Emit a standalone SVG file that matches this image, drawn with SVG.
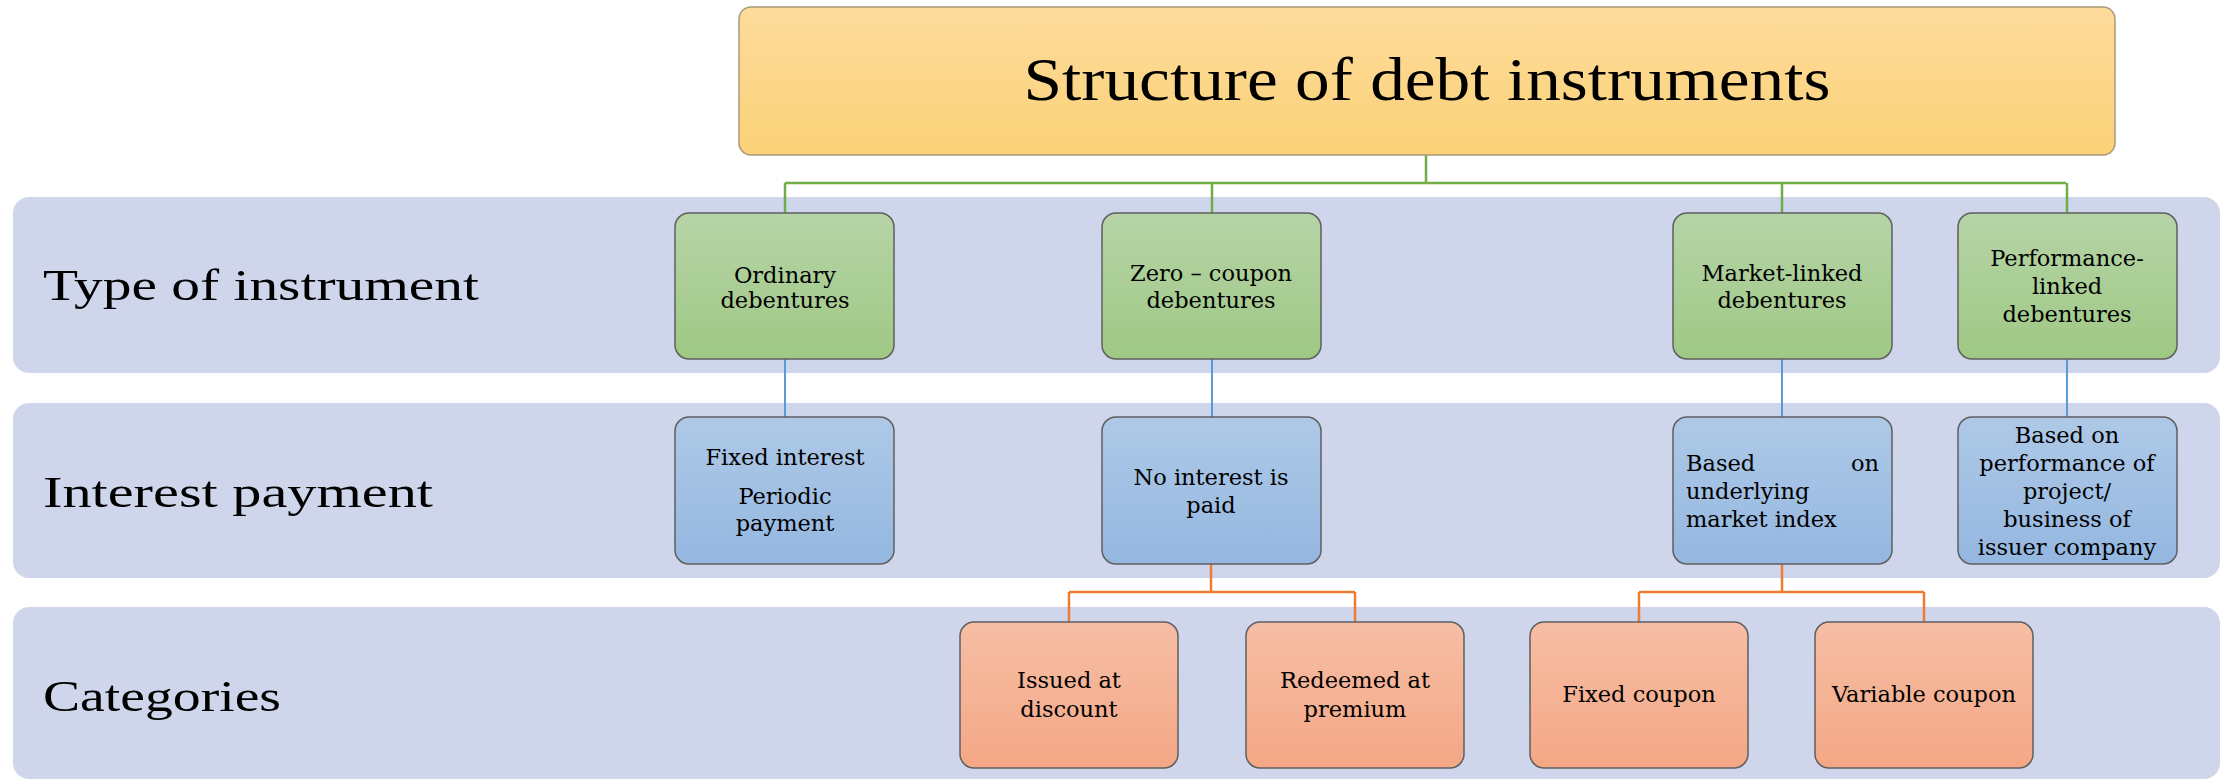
<svg xmlns="http://www.w3.org/2000/svg" width="2226" height="780" viewBox="0 0 2226 780">
<defs>
<linearGradient id="gTitle" x1="0" y1="0" x2="0" y2="1"><stop offset="0" stop-color="#fddb9c"/><stop offset="1" stop-color="#fbd277"/></linearGradient>
<linearGradient id="gGreen" x1="0" y1="0" x2="0" y2="1"><stop offset="0" stop-color="#b6d4a7"/><stop offset="1" stop-color="#9fc884"/></linearGradient>
<linearGradient id="gBlue" x1="0" y1="0" x2="0" y2="1"><stop offset="0" stop-color="#aec9e7"/><stop offset="1" stop-color="#94b7e0"/></linearGradient>
<linearGradient id="gOrange" x1="0" y1="0" x2="0" y2="1"><stop offset="0" stop-color="#f6bea5"/><stop offset="1" stop-color="#f4a785"/></linearGradient>
<style>
.band{fill:#cfd5ea}
.box{stroke:#5f5f5f;stroke-width:1.5}
.green{fill:url(#gGreen)}
.blue{fill:url(#gBlue)}
.orange{fill:url(#gOrange)}
.t{font-family:"DejaVu Serif","Liberation Serif",serif;font-size:22.5px;fill:#000;text-anchor:middle}
.lbl{font-family:"Liberation Serif","DejaVu Serif",serif;font-size:45px;fill:#000}
.cg{stroke:#70ad47;stroke-width:2.5;fill:none}
.cb{stroke:#5b9bd5;stroke-width:2;fill:none}
.co{stroke:#ed7d31;stroke-width:2.5;fill:none}
</style>
</defs>
<rect width="2226" height="780" fill="#ffffff"/>
<g id="bands">
<rect class="band" x="13" y="197" width="2207" height="176" rx="16"/>
<rect class="band" x="13" y="403" width="2207" height="175" rx="16"/>
<rect class="band" x="13" y="607" width="2207" height="172" rx="16"/>
</g>
<g id="row-labels">
<text class="lbl" x="43" y="300" textLength="436" lengthAdjust="spacingAndGlyphs">Type of instrument</text>
<text class="lbl" x="43" y="507" textLength="390" lengthAdjust="spacingAndGlyphs">Interest payment</text>
<text class="lbl" x="43" y="711" textLength="238" lengthAdjust="spacingAndGlyphs">Categories</text>
</g>
<g id="connectors">
<path class="cg" d="M1426 155V183M785 183H2066M785 183V213M1212 183V213M1782 183V213M2067 183V213"/>
<path class="cb" d="M785 359V417M1212 359V417M1782 359V417M2067 359V417"/>
<path class="co" d="M1211 564V592M1069 592H1355M1069 592V622M1355 592V622M1782 564V592M1639 592H1924M1639 592V622M1924 592V622"/>
</g>
<g id="title">
<rect x="739" y="7" width="1376" height="148" rx="12" fill="url(#gTitle)" stroke="#a89a7a" stroke-width="1.5"/>
<text x="1427" y="100" font-family="Liberation Serif, DejaVu Serif, serif" font-size="61" text-anchor="middle" textLength="807" lengthAdjust="spacingAndGlyphs">Structure of debt instruments</text>
</g>
<g id="ordinary">
<rect class="box green" x="675" y="213" width="219" height="146" rx="14"/>
<text class="t"><tspan x="785" y="283">Ordinary</tspan><tspan x="785" y="308">debentures</tspan></text>
</g>
<g id="zero-coupon">
<rect class="box green" x="1102" y="213" width="219" height="146" rx="14"/>
<text class="t"><tspan x="1211" y="281">Zero – coupon</tspan><tspan x="1211" y="308">debentures</tspan></text>
</g>
<g id="market-linked">
<rect class="box green" x="1673" y="213" width="219" height="146" rx="14"/>
<text class="t"><tspan x="1782" y="281">Market-linked</tspan><tspan x="1782" y="308">debentures</tspan></text>
</g>
<g id="performance-linked">
<rect class="box green" x="1958" y="213" width="219" height="146" rx="14"/>
<text class="t"><tspan x="2067" y="266">Performance-</tspan><tspan x="2067" y="294">linked</tspan><tspan x="2067" y="322">debentures</tspan></text>
</g>
<g id="fixed-interest">
<rect class="box blue" x="675" y="417" width="219" height="147" rx="14"/>
<text class="t"><tspan x="785" y="465">Fixed interest</tspan><tspan x="785" y="504">Periodic</tspan><tspan x="785" y="531">payment</tspan></text>
</g>
<g id="no-interest">
<rect class="box blue" x="1102" y="417" width="219" height="147" rx="14"/>
<text class="t"><tspan x="1211" y="485">No interest is</tspan><tspan x="1211" y="513">paid</tspan></text>
</g>
<g id="market-index">
<rect class="box blue" x="1673" y="417" width="219" height="147" rx="14"/>
<text class="t" text-anchor="start"><tspan x="1686" y="471" text-anchor="start">Based</tspan><tspan x="1879" y="471" text-anchor="end">on</tspan><tspan x="1686" y="499" text-anchor="start">underlying</tspan><tspan x="1686" y="527" text-anchor="start">market index</tspan></text>
</g>
<g id="performance-based">
<rect class="box blue" x="1958" y="417" width="219" height="147" rx="14"/>
<text class="t"><tspan x="2067" y="443">Based on</tspan><tspan x="2067" y="471">performance of</tspan><tspan x="2067" y="499">project/</tspan><tspan x="2067" y="527">business of</tspan><tspan x="2067" y="555">issuer company</tspan></text>
</g>
<g id="issued-discount">
<rect class="box orange" x="960" y="622" width="218" height="146" rx="14"/>
<text class="t"><tspan x="1069" y="688">Issued at</tspan><tspan x="1069" y="717">discount</tspan></text>
</g>
<g id="redeemed-premium">
<rect class="box orange" x="1246" y="622" width="218" height="146" rx="14"/>
<text class="t"><tspan x="1355" y="688">Redeemed at</tspan><tspan x="1355" y="717">premium</tspan></text>
</g>
<g id="fixed-coupon">
<rect class="box orange" x="1530" y="622" width="218" height="146" rx="14"/>
<text class="t"><tspan x="1639" y="702">Fixed coupon</tspan></text>
</g>
<g id="variable-coupon">
<rect class="box orange" x="1815" y="622" width="218" height="146" rx="14"/>
<text class="t"><tspan x="1924" y="702">Variable coupon</tspan></text>
</g>
</svg>
